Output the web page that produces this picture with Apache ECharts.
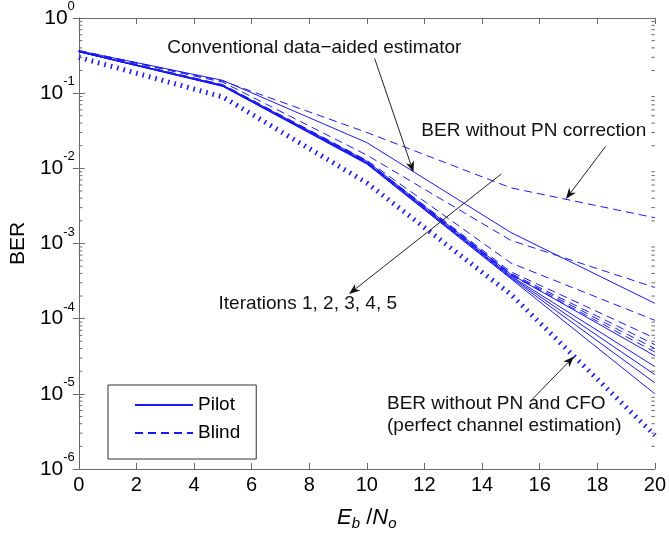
<!DOCTYPE html>
<html><head><meta charset="utf-8">
<script src="https://cdn.jsdelivr.net/npm/echarts@6/dist/echarts.min.js"></script>
<style>html,body{margin:0;padding:0;background:#fff}#c{width:669px;height:536px}</style>
</head><body><div id="c"></div>
<script>
// ---- data (Eb/No in dB, BER values) ----
const ebno = [0, 5, 10, 15, 20];
const perfect    = [0.30, 0.089, 0.0064, 2.1e-4, 2.8e-6];
const noPnCorr   = [0.37, 0.145, 0.030, 0.0055, 0.0022];
const convPilot  = [0.366, 0.148, 0.022, 0.0014, 1.6e-4];
const convBlind  = [0.366, 0.140, 0.015, 0.0011, 2.6e-4];
const iterPilot1 = [0.360, 0.128, 0.0125, 3.9e-4, 3.2e-5];
const iterPilot2 = [0.358, 0.126, 0.0120, 3.7e-4, 2.3e-5];
const iterPilot3 = [0.357, 0.125, 0.0118, 3.6e-4, 1.8e-5];
const iterPilot4 = [0.356, 0.124, 0.0116, 3.5e-4, 1.4e-5];
const iterPilot5 = [0.355, 0.123, 0.0114, 3.4e-4, 1.0e-5];
const iterBlind1 = [0.362, 0.130, 0.0128, 5.5e-4, 9.5e-5];
const iterBlind2 = [0.360, 0.128, 0.0124, 4.2e-4, 5.5e-5];
const iterBlind3 = [0.359, 0.127, 0.0122, 4.0e-4, 4.5e-5];
const iterBlind4 = [0.358, 0.126, 0.0120, 3.9e-4, 4.0e-5];
const iterBlind5 = [0.357, 0.125, 0.0119, 3.8e-4, 3.6e-5];
const xTicks = [0, 2, 4, 6, 8, 10, 12, 14, 16, 18, 20];
const minorTickVals = [];
for (let k = -6; k <= -1; k++) for (let m = 2; m <= 9; m++) minorTickVals.push(m * Math.pow(10, k));

// annotations (data coordinates)
const notes = [
  {text: 'Conventional data\u2212aided estimator', x: 3.07, y: 0.407},
  {text: 'BER without PN correction', x: 11.89, y: 0.0319},
  {text: 'Iterations 1, 2, 3, 4, 5', x: 4.85, y: 1.57e-4},
  {text: 'BER without PN and CFO', x: 10.70, y: 7.3e-6},
  {text: '(perfect channel estimation)', x: 10.70, y: 3.78e-6}
];
const arrows = [
  [[10.27, 0.29], [11.62, 0.00887]],
  [[18.29, 0.0196], [16.91, 0.0039]],
  [[14.67, 0.00843], [9.38, 2.13e-4]],
  [[15.75, 8.5e-6], [17.19, 3.14e-5]]
];

const FONT = '"Liberation Sans", Arial, Helvetica, sans-serif';
const BLUE = '#1a1af2';
const AX = '#6a6a6a';
const pairs = arr => ebno.map((x, i) => [x, arr[i]]);
const solid = (name, arr) => ({type: 'line', name, data: pairs(arr), symbol: 'none', showSymbol: false,
  lineStyle: {color: BLUE, width: 1}, itemStyle: {color: BLUE}, z: 3, animation: false});
const dashed = (name, arr) => ({type: 'line', name, data: pairs(arr), symbol: 'none', showSymbol: false,
  lineStyle: {color: BLUE, width: 1, type: [8, 5]}, itemStyle: {color: BLUE}, z: 3, animation: false});

const chart = echarts.init(document.getElementById('c'), null, {renderer: 'canvas'});
const series = [
  {type: 'line', name: 'Perfect', data: pairs(perfect), symbol: 'none', showSymbol: false,
   lineStyle: {color: BLUE, width: 5, type: [1.6, 5], cap: 'butt'}, z: 2, animation: false},
  dashed('NoPN', noPnCorr),
  solid('Pilot', convPilot), dashed('Blind', convBlind),
  solid('Pilot', iterPilot1), solid('Pilot', iterPilot2), solid('Pilot', iterPilot3),
  solid('Pilot', iterPilot4), solid('Pilot', iterPilot5),
  dashed('Blind', iterBlind1), dashed('Blind', iterBlind2), dashed('Blind', iterBlind3),
  dashed('Blind', iterBlind4), dashed('Blind', iterBlind5),
  {type: 'custom', name: 'minor', data: minorTickVals.map(v => [0, v]), silent: true, z: 5,
   animation: false, clip: false,
   renderItem: (params, api) => {
     const v = api.value(1);
     const l = api.coord([0, v]);
     const r = api.coord([20, v]);
     return {type: 'group', children: [
       {type: 'line', shape: {x1: l[0], y1: l[1], x2: l[0] + 3.5, y2: l[1]}, style: {stroke: AX, lineWidth: 1}},
       {type: 'line', shape: {x1: r[0], y1: r[1], x2: r[0] - 3.5, y2: r[1]}, style: {stroke: AX, lineWidth: 1}}
     ]};
   }}
];

const supRich = {
  b: {fontSize: 21, fontFamily: FONT, color: '#000', lineHeight: 36, verticalAlign: 'middle'},
  s: {fontSize: 13, fontFamily: FONT, color: '#000', lineHeight: 36, verticalAlign: 'top'}
};

chart.setOption({
  backgroundColor: '#fff',
  animation: false,
  textStyle: {fontFamily: FONT},
  grid: {left: 76, right: 12.5, top: 17, bottom: 62, containLabel: false},
  legend: {
    data: ['Pilot', 'Blind'], orient: 'vertical', left: 108, top: 385,
    padding: [9, 16, 15, 26], itemWidth: 58, itemHeight: 12, itemGap: 6,
    borderColor: '#333', borderWidth: 1, backgroundColor: '#fff',
    itemStyle: {opacity: 0},
    textStyle: {fontSize: 19, fontFamily: FONT, color: '#000', lineHeight: 22},
    selectedMode: false
  },
  xAxis: [
    {type: 'value', min: 0, max: 20, interval: 2, position: 'bottom',
     axisLine: {show: true, lineStyle: {color: AX}}, splitLine: {show: false},
     axisTick: {show: true, inside: true, length: 6, lineStyle: {color: AX}},
     axisLabel: {fontSize: 20, color: '#000', margin: 6, fontFamily: FONT,
       formatter: v => xTicks.includes(v) ? String(v) : ''},
     name: '{i|E}{s|b}{n| /}{i|N}{s|o}', nameLocation: 'middle', nameGap: 36,
     nameTextStyle: {rich: {
       i: {fontSize: 22, fontStyle: 'italic', fontFamily: FONT, color: '#000', lineHeight: 26, verticalAlign: 'middle'},
       n: {fontSize: 22, fontFamily: FONT, color: '#000', lineHeight: 26, verticalAlign: 'middle'},
       s: {fontSize: 15, fontStyle: 'italic', fontFamily: FONT, color: '#000', lineHeight: 26, verticalAlign: 'bottom'}
     }}},
    {type: 'value', min: 0, max: 20, interval: 2, position: 'top',
     axisLine: {show: true, lineStyle: {color: AX}}, splitLine: {show: false},
     axisTick: {show: true, inside: true, length: 6, lineStyle: {color: AX}},
     axisLabel: {show: false}}
  ],
  yAxis: [
    {type: 'log', logBase: 10, min: 1e-6, max: 1, position: 'left',
     axisLine: {show: true, lineStyle: {color: AX}}, splitLine: {show: false},
     axisTick: {show: true, inside: true, length: 6, lineStyle: {color: AX}},
     axisLabel: {margin: 4, rich: supRich,
       formatter: v => '{b|10}{s|' + Math.round(Math.log10(v)) + '}'},
     name: 'BER', nameLocation: 'middle', nameRotate: 90, nameGap: 48,
     nameTextStyle: {fontSize: 21, fontFamily: FONT, color: '#000'}},
    {type: 'log', logBase: 10, min: 1e-6, max: 1, position: 'right',
     axisLine: {show: true, lineStyle: {color: AX}}, splitLine: {show: false},
     axisTick: {show: true, inside: true, length: 6, lineStyle: {color: AX}},
     axisLabel: {show: false}}
  ],
  series
});

const toPx = d => chart.convertToPixel({xAxisIndex: 0, yAxisIndex: 0}, d);
const g = [];
notes.forEach(n => {
  const p = toPx([n.x, n.y]);
  g.push({type: 'text', x: p[0], y: p[1], z: 10,
    style: {text: n.text, fontSize: 19, fontFamily: FONT, fill: '#111',
      align: 'left', verticalAlign: 'middle', textAlign: 'left', textVerticalAlign: 'middle'}});
});
arrows.forEach(a => {
  const p1 = toPx(a[0]), p2 = toPx(a[1]);
  const dx = p2[0] - p1[0], dy = p2[1] - p1[1];
  const len = Math.hypot(dx, dy), ux = dx / len, uy = dy / len;
  const L = 11, W = 4.2, N = 3;
  const bx = p2[0] - ux * L, by = p2[1] - uy * L;
  const nx = p2[0] - ux * (L - N), ny = p2[1] - uy * (L - N);
  g.push({type: 'line', z: 10, shape: {x1: p1[0], y1: p1[1], x2: nx, y2: ny},
    style: {stroke: '#222', lineWidth: 1}});
  g.push({type: 'polygon', z: 10, shape: {points: [
    [p2[0], p2[1]], [bx - uy * W, by + ux * W], [nx, ny], [bx + uy * W, by - ux * W]]},
    style: {fill: '#111', stroke: 'none'}});
});
chart.setOption({graphic: g});
</script></body></html>
